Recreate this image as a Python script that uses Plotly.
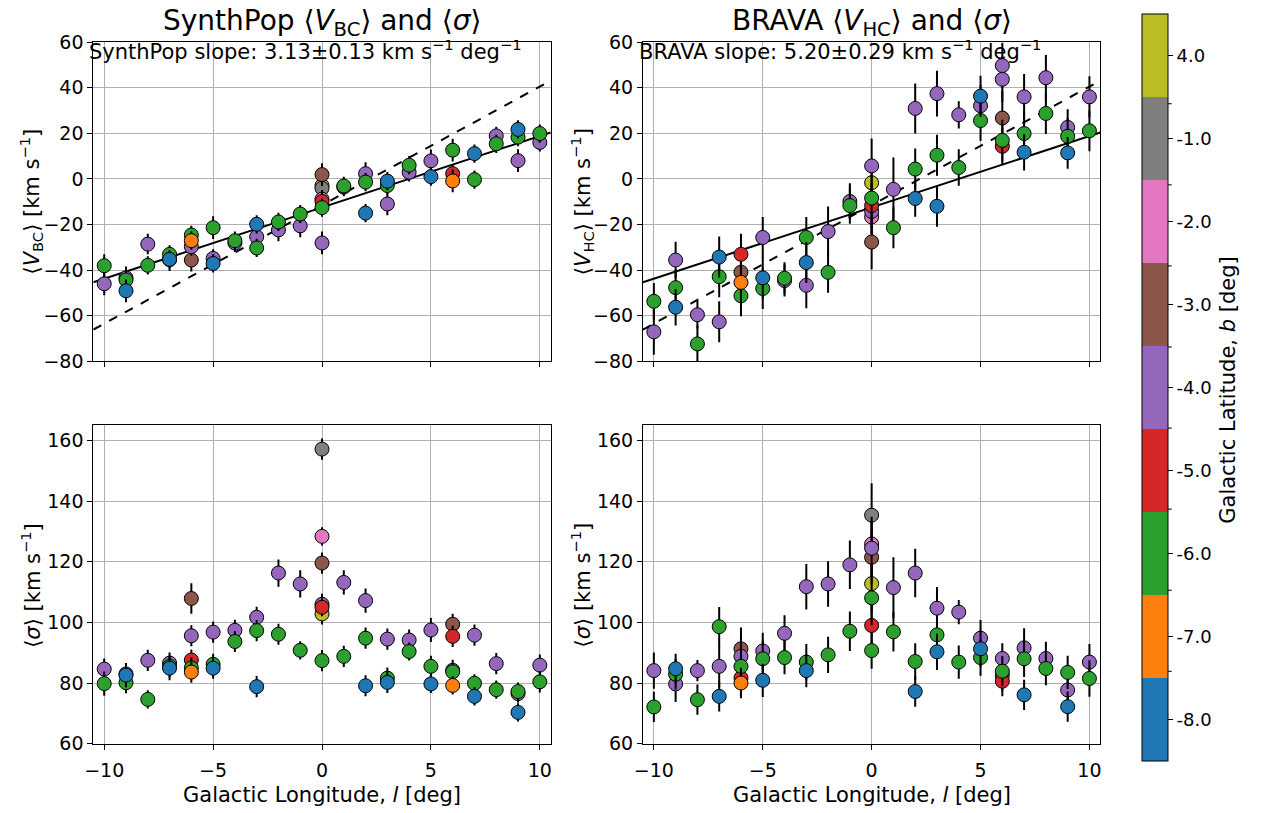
import plotly.graph_objects as go

# ---------------- categories (Galactic latitude b) ----------------
B_CATS = [-8, -7, -6, -5, -4, -3, -2, -1, 4]
B_COLORS = ["#1f77b4", "#ff7f0e", "#2ca02c", "#d62728", "#9467bd",
            "#8c564b", "#e377c2", "#7f7f7f", "#bcbd22"]
B_LABELS = ["-8.0", "-7.0", "-6.0", "-5.0", "-4.0", "-3.0", "-2.0", "-1.0", "4.0"]
DRAW_ORDER = [4, -1, -2, -3, -4, -5, -6, -7, -8]

# ---------------- SynthPop <V_BC> ----------------
sp_v_l = [-10, -10, -9, -9, -9, -8, -8, -7, -7, -7, -6, -6, -6, -6, -5, -5, -5, -4, -4,
          -3, -3, -3, -2, -2, -1, -1, 0, 0, 0, 0, 0, 0, 0, 1, 1, 2, 2, 2, 3, 3, 3, 4, 4,
          5, 5, 6, 6, 6, 7, 7, 8, 8, 9, 9, 9, 10, 10]
sp_v_b = [-6, -4, -4, -6, -8, -4, -6, -6, -4, -8, -6, -4, -7, -3, -6, -4, -8, -6, -4,
          -8, -4, -6, -6, -4, -6, -4, -3, 4, -1, -2, -5, -6, -4, -6, -4, -4, -6, -8, -8, -6, -4, -6, -4,
          -4, -8, -6, -5, -7, -8, -6, -4, -6, -8, -6, -4, -6, -4]
sp_v = [-38.1, -46.0, -43.4, -44.3, -49.1, -28.6, -37.9, -33.1, -35.4, -35.3, -24.6, -29.7, -27.1, -35.6,
        -21.4, -34.9, -37.1, -27.1, -28.1, -19.9, -25.4, -30.3, -18.9, -22.4, -15.4, -20.6,
        1.9, -2.9, -4.1, -8.9, -9.9, -12.6, -28.1, -3.1, -3.6, 2.3, -1.4, -15.0, -1.0, -2.9, -11.0,
        6.0, 2.9, 7.9, 1.0, 12.6, 2.3, -0.9, 11.1, -0.3, 18.9, 15.4, 21.7, 18.3, 8.0, 19.9, 16.0]
sp_v_err = [5, 5, 5, 5, 5, 4.5, 4, 4, 5, 4, 4, 4, 4, 5, 5, 4, 4, 4, 4, 4, 5, 4, 4, 5, 4, 5,
            5, 4, 4, 4, 4, 4, 5, 4, 4, 5, 4, 4, 4, 4, 5, 4, 4, 5, 4, 5, 4, 5, 4, 4, 4, 4, 4, 4, 5, 4, 4]

# ---------------- BRAVA <V_HC> ----------------
br_v_l = [-10, -10, -9, -9, -9, -8, -8, -7, -7, -7, -6, -6, -6, -6, -5, -5, -5, -4, -4,
          -3, -3, -3, -2, -2, -1, -1, 0, 0, 0, 0, 0, 0, 0, 1, 1, 2, 2, 2, 3, 3, 3, 4, 4,
          5, 5, 5, 6, 6, 6, 6, 6, 7, 7, 7, 8, 8, 9, 9, 9, 10, 10]
br_v_b = [-6, -4, -4, -6, -8, -4, -6, -8, -6, -4, -5, -3, -7, -6, -4, -8, -6, -6, -4,
          -6, -8, -4, -4, -6, -4, -6, -4, 4, -6, -5, -4, -2, -3, -4, -6, -4, -6, -8, -4, -6, -8, -4, -6,
          -8, -4, -6, -4, -4, -3, -6, -5, -4, -6, -8, -4, -6, -4, -6, -8, -4, -6]
br_v = [-53.7, -67.1, -35.6, -47.7, -56.3, -59.6, -72.4, -34.3, -42.9, -62.7, -33.1, -40.9, -45.4, -51.3,
        -25.7, -43.4, -48.1, -43.6, -44.6, -25.7, -36.7, -46.7, -23.1, -41.0, -9.9, -11.7,
        5.7, -1.7, -8.4, -11.7, -14.3, -16.7, -27.7, -4.6, -21.4, 30.9, 4.3, -8.6, 37.4, 10.4, -12.0,
        28.1, 5.0, 36.3, 32.1, 25.6, 49.7, 43.7, 26.7, 16.9, 14.3, 36.0, 19.9, 11.7, 44.4, 28.7,
        22.6, 18.7, 11.4, 36.0, 21.1]
br_v_err = [8, 10, 8, 8, 8, 6, 8, 9, 9, 9, 9, 9, 9, 9, 9, 9, 9, 7, 7, 9, 9, 10, 11, 9, 8, 8,
            12, 10, 10, 10, 10, 10, 12, 14, 9, 11, 9, 8, 10, 9, 9, 6, 8, 9, 9, 9, 10, 10, 12, 9, 8,
            10, 10, 8, 10, 9, 8, 8, 7, 9, 9]

# ---------------- SynthPop <sigma> ----------------
sp_s_l = [-10, -10, -9, -9, -9, -8, -8, -7, -7, -7, -6, -6, -6, -6, -6, -5, -5, -5, -4, -4,
          -3, -3, -3, -2, -2, -1, -1, 0, 0, 0, 0, 0, 0, 0, 1, 1, 2, 2, 2, 3, 3, 3, 4, 4,
          5, 5, 5, 6, 6, 6, 6, 6, 7, 7, 7, 8, 8, 9, 9, 9, 10, 10]
sp_s_b = [-4, -6, -4, -6, -8, -4, -6, -4, -6, -8, -3, -4, -5, -6, -7, -4, -6, -8, -4, -6,
          -4, -6, -8, -4, -6, -4, -6, -1, -2, -3, -4, -5, 4, -6, -4, -6, -4, -6, -8, -4, -6, -8, -4, -6,
          -4, -6, -8, -3, -5, -4, -6, -7, -4, -6, -8, -4, -6, -4, -6, -8, -4, -6]
sp_s = [84.6, 79.8, 83.0, 80.1, 82.6, 87.5, 74.6, 86.6, 85.5, 84.9, 107.9, 95.6, 87.6, 85.0, 83.6,
        96.8, 86.2, 84.9, 97.4, 93.7, 101.7, 97.3, 78.8, 116.3, 96.1, 112.7, 90.8,
        157.2, 128.4, 119.6, 106.0, 105.0, 102.8, 87.4, 113.2, 88.8, 107.2, 94.8, 79.1,
        94.5, 81.6, 80.2, 94.2, 90.4, 97.5, 85.5, 79.7, 99.4, 95.4, 84.2, 83.7, 79.2,
        95.8, 79.9, 75.6, 86.4, 77.8, 76.5, 77.2, 70.3, 85.9, 80.4]
sp_s_err = [3.5, 4, 3.5, 3.5, 4, 3.5, 3, 3.5, 3.5, 4, 5, 3.5, 3.5, 3.5, 3.5, 3.5, 3.5, 3.5, 3.5, 3.5,
            3.5, 3.5, 3.5, 4.5, 3.5, 4.5, 3, 3.5, 3, 3.5, 3.5, 3, 3.5, 3.5, 4, 3.5, 4, 3.5, 3.5,
            3.5, 3.5, 3.5, 3.5, 3, 4, 3.5, 3, 3.5, 3.5, 3.5, 3, 3, 3.5, 3, 3, 3.5, 3, 3, 3, 3, 3.5, 3.5]

# ---------------- BRAVA <sigma> ----------------
br_s_l = [-10, -10, -9, -9, -9, -8, -8, -7, -7, -7, -6, -6, -6, -6, -6, -5, -5, -5, -4, -4,
          -3, -3, -3, -2, -2, -1, -1, 0, 0, 0, 0, 0, 0, 0, 0, 1, 1, 2, 2, 2, 3, 3, 3, 4, 4,
          5, 5, 5, 6, 6, 6, 6, 7, 7, 7, 8, 8, 9, 9, 9, 10, 10]
br_s_b = [-4, -6, -8, -6, -4, -4, -6, -6, -4, -8, -3, -4, -6, -5, -7, -4, -6, -8, -4, -6,
          -4, -6, -8, -4, -6, -4, -6, -1, -2, -4, -3, 4, -6, -5, -6, -4, -6, -4, -6, -8, -4, -6, -8, -4, -6,
          -4, -8, -6, -4, -6, -3, -5, -4, -6, -8, -4, -6, -6, -4, -8, -4, -6]
br_s = [84.1, 72.1, 84.7, 82.9, 79.7, 84.1, 74.5, 98.6, 85.5, 75.6, 91.3, 88.8, 85.5, 81.7, 80.0,
        90.6, 88.0, 80.9, 96.4, 88.4, 111.8, 86.9, 84.1, 112.7, 89.3, 119.0, 97.1,
        135.4, 125.9, 124.5, 121.5, 112.8, 108.1, 99.0, 90.7, 111.5, 96.9, 116.3, 87.1, 77.2,
        104.7, 95.9, 90.3, 103.4, 86.9, 94.8, 91.3, 88.4, 88.1, 83.9, 82.5, 80.6,
        91.6, 88.0, 76.1, 88.1, 84.8, 83.5, 77.7, 72.2, 86.9, 81.5]
br_s_err = [6, 5, 5, 5, 6, 3.5, 5, 6.5, 7, 5, 7, 7, 6, 6, 5, 6, 6, 5.5, 6, 5.5, 7.5, 6, 5.5, 7.5, 6,
            8, 6.5, 10.5, 9, 9, 9, 9, 9, 8, 6, 10, 6.5, 8, 6, 5, 7, 6.5, 6, 4, 5.5, 6, 6, 6,
            5, 5, 5, 5, 6.5, 6, 5, 5.5, 5.5, 5.5, 5.5, 5, 6, 6]

# ---------------- linear fits ----------------
FIT_NAMES = ["SynthPop", "BRAVA"]
FIT_SLOPE = [3.13, 5.20]
FIT_SLOPE_ERR = [0.13, 0.29]
FIT_INTERCEPT = [-12.5, -11.5]
FIT_DASH = ["solid", "dash"]
FIT_L = [-10.5, 10.5]

# ---------------- axis ticks ----------------
X_TICKS = [-10, -5, 0, 5, 10]
V_TICKS = [-80, -60, -40, -20, 0, 20, 40, 60]
S_TICKS = [60, 80, 100, 120, 140, 160]

W, H = 1268, 813
FONT = "DejaVu Sans"
TICK_SIZE = 19
LABEL_SIZE = 21
TITLE_SIZE = 28
color_of = dict(zip(B_CATS, B_COLORS))

fig = go.Figure()

def xd(a, b):
    return [a / W, b / W]

def yd(top, bottom):
    return [1 - bottom / H, 1 - top / H]

panels = [
    ("x", "y", sp_v_l, sp_v_b, sp_v, sp_v_err),
    ("x2", "y2", br_v_l, br_v_b, br_v, br_v_err),
    ("x3", "y3", sp_s_l, sp_s_b, sp_s, sp_s_err),
    ("x4", "y4", br_s_l, br_s_b, br_s, br_s_err),
]

for xa, ya in [("x", "y"), ("x2", "y2")]:
    for k in range(len(FIT_NAMES)):
        yy = [FIT_SLOPE[k] * l + FIT_INTERCEPT[k] for l in FIT_L]
        fig.add_trace(go.Scatter(x=FIT_L, y=yy, mode="lines", xaxis=xa, yaxis=ya,
                                 line=dict(color="black", width=2, dash=FIT_DASH[k]),
                                 showlegend=False, hoverinfo="skip"))

for xa, ya, L, Bv, V, E in panels:
    for bc in DRAW_ORDER:
        idx = [i for i in range(len(L)) if Bv[i] == bc]
        if not idx:
            continue
        fig.add_trace(go.Scatter(
            x=[L[i] for i in idx], y=[V[i] for i in idx], mode="markers",
            xaxis=xa, yaxis=ya,
            marker=dict(size=14, color=color_of[bc], line=dict(color="black", width=1)),
            error_y=dict(type="data", array=[E[i] for i in idx], visible=True,
                         color="black", thickness=2, width=0),
            showlegend=False))

# discrete colorbar
cs = []
n = len(B_COLORS)
for i, c in enumerate(B_COLORS):
    cs.append([i / n, c])
    cs.append([(i + 1) / n, c])
CB_TOP, CB_BOTTOM, CB_LEFT, CB_THICK = 12, 762, 1142, 26
fig.add_trace(go.Scatter(
    x=[None], y=[None], mode="markers", xaxis="x", yaxis="y", showlegend=False,
    marker=dict(color=[0], colorscale=cs, cmin=-0.5, cmax=n - 0.5, showscale=True,
                colorbar=dict(x=CB_LEFT / W, xanchor="left", xpad=0, ypad=0,
                              thickness=CB_THICK, len=768 / H, lenmode="fraction",
                              y=1 - 387 / H, yanchor="middle",
                              outlinewidth=1, outlinecolor="black",
                              tickvals=list(range(n)), ticktext=B_LABELS,
                              ticks="outside", ticklen=5, tickcolor="black",
                              tickfont=dict(family=FONT, size=18, color="black")))))

shapes = []
for k in range(1, n):
    yb = CB_TOP + k * (CB_BOTTOM - CB_TOP) / n
    shapes.append(dict(type="line", xref="paper", yref="paper",
                       x0=(CB_LEFT + CB_THICK) / W, x1=(CB_LEFT + CB_THICK + 4) / W,
                       y0=1 - yb / H, y1=1 - yb / H, line=dict(color="black", width=1)))

axis_common = dict(showline=True, linecolor="black", linewidth=1, mirror=True,
                   ticks="outside", ticklen=5, tickcolor="black",
                   showgrid=True, gridcolor="#b0b0b0", gridwidth=1, zeroline=False,
                   tickfont=dict(family=FONT, size=TICK_SIZE, color="black"))

left_x = (85, 546)
right_x = (639, 1100)
top_y = (32, 360)
bot_y = (426, 753)

fig.update_layout(
    width=W, height=H, margin=dict(l=0, r=0, t=0, b=0),
    paper_bgcolor="white", plot_bgcolor="white",
    font=dict(family=FONT, color="black"),
    shapes=shapes,
    xaxis=dict(domain=xd(*left_x), range=[-10.5, 10.5], tickvals=X_TICKS, showticklabels=False,
               anchor="y", **axis_common),
    yaxis=dict(domain=yd(*top_y), range=[-80, 60], tickvals=V_TICKS, anchor="x", **axis_common),
    xaxis2=dict(domain=xd(*right_x), range=[-10.5, 10.5], tickvals=X_TICKS, showticklabels=False,
                anchor="y2", **axis_common),
    yaxis2=dict(domain=yd(*top_y), range=[-80, 60], tickvals=V_TICKS, anchor="x2", **axis_common),
    xaxis3=dict(domain=xd(*left_x), range=[-10.5, 10.5], tickvals=X_TICKS, anchor="y3",
                ticklabelstandoff=5, **axis_common),
    yaxis3=dict(domain=yd(*bot_y), range=[60, 165], tickvals=S_TICKS, anchor="x3", **axis_common),
    xaxis4=dict(domain=xd(*right_x), range=[-10.5, 10.5], tickvals=X_TICKS, anchor="y4",
                ticklabelstandoff=5, **axis_common),
    yaxis4=dict(domain=yd(*bot_y), range=[60, 165], tickvals=S_TICKS, anchor="x4", **axis_common),
)

ann = []
def add_text(text, px, py, size, xanchor="center", yanchor="middle", angle=0):
    ann.append(dict(text=text, x=px / W, y=1 - py / H, xref="paper", yref="paper",
                    xanchor=xanchor, yanchor=yanchor, showarrow=False, textangle=angle,
                    borderpad=0,
                    font=dict(family=FONT, size=size, color="black")))

add_text("SynthPop ⟨<i>V</i><sub>BC</sub>⟩ and ⟨<i>σ</i>⟩", 315.5, -8, TITLE_SIZE, yanchor="top")
add_text("BRAVA ⟨<i>V</i><sub>HC</sub>⟩ and ⟨<i>σ</i>⟩", 869.5, -8, TITLE_SIZE, yanchor="top")
for k, px in [(0, 80), (1, 634)]:
    add_text(f"{FIT_NAMES[k]} slope: {FIT_SLOPE[k]:.2f}±{FIT_SLOPE_ERR[k]:.2f} km s<sup>−1</sup> deg<sup>−1</sup>",
             px, 40, LABEL_SIZE, xanchor="left")
add_text("⟨<i>V</i><sub>BC</sub>⟩ [km s<sup>−1</sup>]", 22, 196, LABEL_SIZE, angle=-90)
add_text("⟨<i>V</i><sub>HC</sub>⟩ [km s<sup>−1</sup>]", 577, 196, LABEL_SIZE, angle=-90)
add_text("⟨<i>σ</i>⟩ [km s<sup>−1</sup>]", 22, 590, LABEL_SIZE, angle=-90)
add_text("⟨<i>σ</i>⟩ [km s<sup>−1</sup>]", 577, 590, LABEL_SIZE, angle=-90)
add_text("Galactic Longitude, <i>l</i> [deg]", 315.5, 819, LABEL_SIZE, yanchor="bottom")
add_text("Galactic Longitude, <i>l</i> [deg]", 869.5, 819, LABEL_SIZE, yanchor="bottom")
add_text("Galactic Latitude, <i>b</i> [deg]", 1229, 390, LABEL_SIZE, angle=-90)
fig.update_layout(annotations=ann)

fig.write_html("out.html")
